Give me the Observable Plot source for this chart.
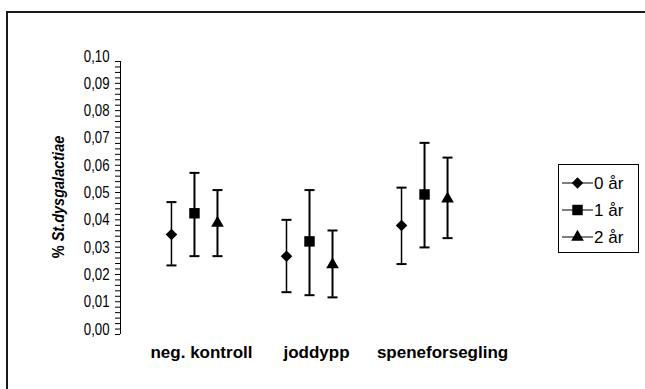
<!DOCTYPE html>
<html>
<head>
<meta charset="utf-8">
<script src="https://cdn.jsdelivr.net/npm/d3@7"></script>
<script src="https://cdn.jsdelivr.net/npm/@observablehq/plot@0.6"></script>
<style>
  html, body { margin: 0; padding: 0; width: 645px; height: 389px; overflow: hidden; background: #fff; }
  body { position: relative; font-family: "Liberation Sans", Arial, sans-serif; }
  #frame { position: absolute; left: 6px; top: 11px; width: 760px; height: 500px; border: 2px solid #1a1a1a; }
  #chart { position: absolute; left: 0; top: 0; }
  #legend { position: absolute; left: 558px; top: 164px; }
</style>
</head>
<body>
<div id="frame"></div>
<div id="chart"></div>
<div id="legend"></div>
<script>
// ---- data ----
const categories = ["neg. kontroll", "joddypp", "speneforsegling"];
const series = ["0 år", "1 år", "2 år"];
// per series, one value per category
const means = [
  [0.0366, 0.0287, 0.0399],
  [0.0444, 0.0341, 0.0513],
  [0.0408, 0.0256, 0.0497]
];
const lows = [
  [0.0253, 0.0155, 0.0258],
  [0.0287, 0.0144, 0.0319],
  [0.0287, 0.0136, 0.0353]
];
const highs = [
  [0.0485, 0.0420, 0.0538],
  [0.0592, 0.0529, 0.0702],
  [0.0529, 0.0381, 0.0648]
];
const yTicks = [0, 0.01, 0.02, 0.03, 0.04, 0.05, 0.06, 0.07, 0.08, 0.09, 0.10];

// ---- layout / style constants ----
const font = '"Liberation Sans", Arial, sans-serif';
const symbols = ["diamond2", "square", "triangle"];
const radii = [5.2, 5.9, 4.7];
const barWidths = [1.5, 2, 2];
const dodge = [-0.2, 0, 0.2];
const labelShift = [7, 7, 18];
const xDomain = [-0.643, 2.643];

const rows = [];
series.forEach((s, si) => {
  categories.forEach((c, ci) => {
    rows.push({cat: c, ci, s, si, x: ci + dodge[si], mean: means[si][ci], lo: lows[si][ci], hi: highs[si][ci]});
  });
});

const minorTicks = d3.range(0, 51).map(i => i / 500);
const fmt = d => d.toFixed(2).replace(".", ",");

const capSymbol = {
  draw(context) {
    context.moveTo(-5, 0);
    context.lineTo(5, 0);
  }
};

const plot = Plot.plot({
  width: 645,
  height: 389,
  marginTop: 61,
  marginBottom: 55,
  marginLeft: 120,
  marginRight: 147,
  style: {fontFamily: font, color: "#000", background: "transparent", overflow: "visible"},
  x: {domain: xDomain, axis: null},
  y: {domain: [0, 0.1], axis: null},
  marks: [
    // y axis line
    Plot.ruleX([xDomain[0]], {stroke: "#000", strokeWidth: 1}),
    // minor + major ticks
    Plot.axisY({ticks: minorTicks, tickSize: 5, tickFormat: () => "", label: null, stroke: "#000", strokeOpacity: 1}),
    // labels
    Plot.axisY({ticks: yTicks, tickSize: 0, tickPadding: 11, tickFormat: fmt, fontSize: 16.5, label: null, fill: "#000"}),
    // category labels
    ...categories.map((c, ci) => Plot.axisX({ticks: [ci], tickSize: 0, tickPadding: 11, dx: labelShift[ci], tickFormat: i => categories[i], fontSize: 17, fontWeight: "bold", label: null, fill: "#000"})),
    // error bars
    ...series.map((s, si) => Plot.ruleX(rows.filter(d => d.si === si), {x: "x", y1: "lo", y2: "hi", stroke: "#000", strokeWidth: barWidths[si]})),
    Plot.dot(rows, {x: "x", y: "hi", symbol: capSymbol, r: 5, stroke: "#000", fill: "none", strokeWidth: 2}),
    Plot.dot(rows, {x: "x", y: "lo", symbol: capSymbol, r: 5, stroke: "#000", fill: "none", strokeWidth: 2}),
    // markers
    ...series.map((s, si) => Plot.dot(rows.filter(d => d.si === si), {x: "x", y: "mean", symbol: symbols[si], r: radii[si], fill: "#000", stroke: "none"}))
  ]
});

document.getElementById("chart").appendChild(plot);
const svg = d3.select(plot);

// narrow the y tick labels horizontally (the reference font is tall and condensed)
function squeeze(sel, sx) {
  sel.each(function() {
    const el = d3.select(this);
    const x = +el.attr("x") || 0, y = +el.attr("y") || 0;
    const tr = el.attr("transform") || "";
    el.attr("x", null).attr("y", null).attr("transform", `${tr} translate(${x},${y}) scale(${sx},1)`);
  });
}
squeeze(svg.selectAll('g[aria-label="y-axis tick label"] text'), 0.8);

// y axis title
const t = svg.append("text")
  .attr("transform", "translate(64,197) rotate(-90) scale(0.88,1)")
  .attr("text-anchor", "middle")
  .attr("font-size", 16.5)
  .attr("font-weight", "bold")
  .attr("font-family", font)
  .attr("fill", "#000");
t.append("tspan").text("% ");
t.append("tspan").attr("font-style", "italic").text("St.dysgalactiae");

// legend
const lw = 81, lh = 89;
const leg = d3.select("#legend").append("svg")
  .attr("width", lw).attr("height", lh)
  .style("font-family", font);
leg.append("rect").attr("x", 0.5).attr("y", 0.5).attr("width", lw - 1).attr("height", lh - 1)
  .attr("fill", "#fff").attr("stroke", "#000");
const d3sym = {diamond2: d3.symbolDiamond2, square: d3.symbolSquare, triangle: d3.symbolTriangle};
series.forEach((s, si) => {
  const cy = 19 + si * 27;
  const g = leg.append("g");
  g.append("line").attr("x1", 4).attr("x2", 35).attr("y1", cy).attr("y2", cy).attr("stroke", "#000").attr("stroke-width", 1);
  g.append("path").attr("transform", `translate(19.5,${cy})`)
    .attr("d", d3.symbol(d3sym[symbols[si]], Math.PI * radii[si] * radii[si])())
    .attr("fill", "#000");
  g.append("text").attr("x", 36).attr("y", cy).attr("dy", "0.36em").attr("font-size", 17).attr("fill", "#000").text(s);
});
</script>
</body>
</html>
